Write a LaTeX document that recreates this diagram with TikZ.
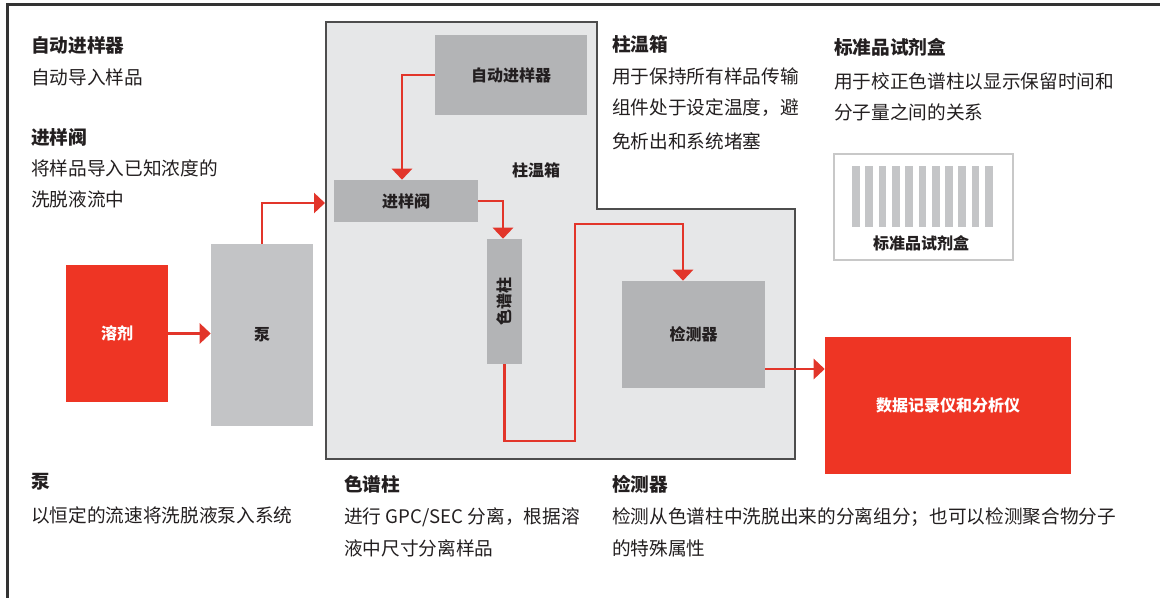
\documentclass[tikz,border=0pt]{standalone}
\usepackage{fontspec}
\setmainfont{Noto Sans CJK SC}
\usetikzlibrary{arrows.meta}
\definecolor{gred}{HTML}{EE3524}
\definecolor{ared}{HTML}{E2352A}
\definecolor{ovenc}{HTML}{E6E7E8}
\definecolor{ovenline}{HTML}{4D4D4D}
\definecolor{unitc}{HTML}{B3B4B6}
\definecolor{pumpc}{HTML}{C3C4C6}
\definecolor{inkc}{HTML}{231F20}
\definecolor{barc}{HTML}{C4C5C7}
\definecolor{kitline}{HTML}{C8C8C8}
\definecolor{framec}{HTML}{333333}
\begin{document}
\begin{tikzpicture}[x=0.75pt,y=-0.75pt,
  title/.style={anchor=west, inner sep=0pt, text=inkc, font=\fontsize{14}{16}\selectfont\bfseries},
  body/.style={anchor=west, inner sep=0pt, text=inkc, font=\fontsize{14}{16}\selectfont},
  unitbox/.style={fill=unitc, draw=none, inner sep=0pt, text=inkc, font=\fontsize{12}{14}\selectfont\bfseries},
  pumpbox/.style={fill=pumpc, draw=none, inner sep=0pt, text=inkc, font=\fontsize{12}{14}\selectfont\bfseries},
  redbox/.style={fill=gred, draw=none, inner sep=0pt, text=white, font=\fontsize{12}{14}\selectfont\bfseries},
  flow/.style={draw=ared, line width=2pt, line join=miter, -{Triangle[length=8.25pt,width=15pt]}},
  boxlabel/.style={inner sep=0pt, text=inkc, font=\fontsize{12}{14}\selectfont\bfseries}
]
\useasboundingbox (0,0) rectangle (1160,597);
% frame
\draw[framec, line width=2.25pt, line join=miter] (7.5,600) -- (7.5,4.7) -- (1165,4.7);
% column oven
\draw[fill=ovenc, draw=ovenline, line width=1.2pt, line join=miter]
  (326,22) -- (597,22) -- (597,209) -- (795,209) -- (795,459) -- (326,459) -- cycle;
\coordinate (ovenW) at (325,203);
\node[boxlabel] (ovenlab) at (536,170) {柱温箱};
% units
\node[unitbox, minimum width=114pt, minimum height=60pt] (AS) at (511,75) {自动进样器};
\node[unitbox, minimum width=108pt, minimum height=31.5pt] (V) at (406,201) {进样阀};
\node[unitbox, minimum width=26.25pt, minimum height=93.75pt] (C) at (504.5,301.5) {};
\node[boxlabel, rotate=90] (Clab) at (C.center) {色谱柱};
\node[unitbox, minimum width=107.25pt, minimum height=80.25pt] (D) at (693.5,334.5) {检测器};
\node[redbox, minimum width=184.5pt, minimum height=102.75pt] (R) at (948,405.5) {数据记录仪和分析仪};
\node[redbox, minimum width=76.5pt, minimum height=102.75pt] (S) at (117,333.5) {溶剂};
\node[pumpbox, minimum width=76.5pt, minimum height=136.5pt] (P) at (262,335) {泵};
% standards kit
\node[draw=kitline, fill=white, line width=1.5pt, inner sep=0pt, minimum width=134.25pt, minimum height=79.5pt] (K) at (923.5,207) {};
\foreach \i in {0,...,10} {
  \fill[barc] ({852+13.3*\i},166) rectangle ++(7.7,61);
}
\node[boxlabel] (Klab) at (921,243) {标准品试剂盒};
% flows
\coordinate (b1) at (402,75);
\draw[flow] (AS.west) -- (b1) -- (b1 |- V.north);
\coordinate (b2) at (503,201);
\draw[flow] (V.east) -- (b2) -- (b2 |- C.north);
\coordinate (b4) at (575,441);
\coordinate (b5) at (575,224);
\coordinate (b6) at (683,224);
\draw[flow] (C.south) |- (b4) -- (b5) -- (b6) -- (b6 |- D.north);
\coordinate (b7) at (765,369);
\draw[flow] (b7 -| D.east) -- (b7 -| R.west);
\draw[flow] (S.east) -- (S.east -| P.west);
\coordinate (b8) at (262,203);
\draw[flow] (P.north) -- (b8) -- (ovenW);
% texts left
\node[title] (t1) at (31,45) {自动进样器};
\node[body] (t2) at (31,77) {自动导入样品};
\node[title] (t3) at (31,137) {进样阀};
\node[body] (t4) at (31,168) {将样品导入已知浓度的};
\node[body] (t5) at (31,199) {洗脱液流中};
% texts middle top
\node[title] (m1) at (612,44) {柱温箱};
\node[body] (m2) at (612,76) {用于保持所有样品传输};
\node[body] (m3) at (612,108) {组件处于设定温度，避};
\node[body] (m4) at (612,141) {免析出和系统堵塞};
% texts right top
\node[title] (r1) at (834,47) {标准品试剂盒};
\node[body] (r2) at (834,81) {用于校正色谱柱以显示保留时间和};
\node[body] (r3) at (834,112) {分子量之间的关系};
% bottom texts
\node[title] (p1) at (31,482) {泵};
\node[body] (p2) at (31,515) {以恒定的流速将洗脱液泵入系统};
\node[title] (c1) at (344,484) {色谱柱};
\node[body] (c2) at (344,517) {进行 GPC/SEC 分离，根据溶};
\node[body] (c3) at (344,548) {液中尺寸分离样品};
\node[title] (d1) at (612,484) {检测器};
\node[body] (d2) at (612,517) {检测从色谱柱中洗脱出来的分离组分；也可以检测聚合物分子};
\node[body] (d3) at (612,548) {的特殊属性};
\end{tikzpicture}
\end{document}
